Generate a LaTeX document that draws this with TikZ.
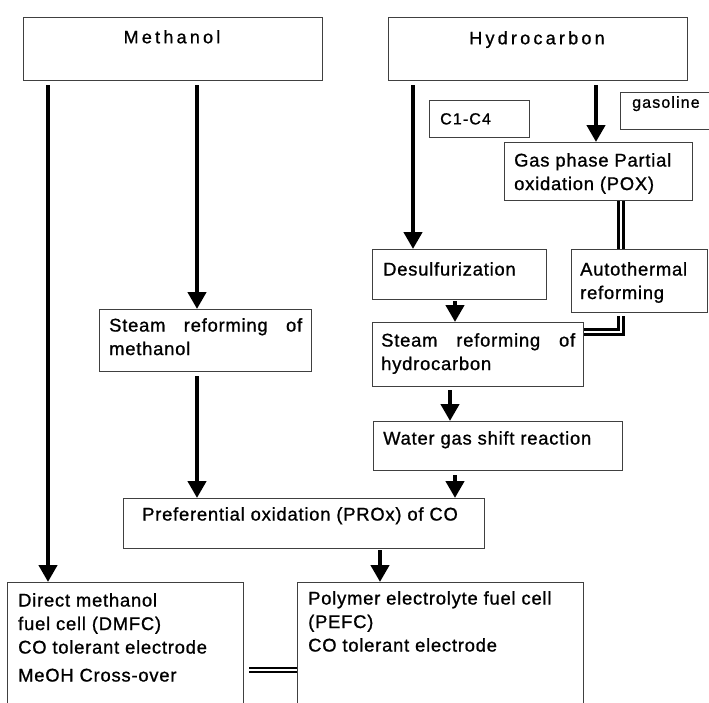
\documentclass[tikz,border=0pt]{standalone}
\usepackage{fontspec}
\setmainfont{Liberation Sans}
\newfontfamily\bodyfont[LetterSpace=4.2,FakeBold=1]{Liberation Sans}
\newfontfamily\headfont[LetterSpace=18,FakeBold=1]{Liberation Sans}
\newfontfamily\tagfont[LetterSpace=7,FakeBold=1]{Liberation Sans}
\usetikzlibrary{arrows.meta}

\tikzset{
  box/.style={draw=black!75, line width=1.1pt, anchor=north west, inner sep=0pt},
  txt/.style={anchor=north west, inner sep=0pt, align=left, font=\bodyfont\fontsize{18.4}{23.5}\selectfont},
  head/.style={anchor=north, inner sep=0pt, font=\headfont\fontsize{18}{21}\selectfont},
  tag/.style={anchor=north west, inner sep=0pt, font=\tagfont\fontsize{16}{19}\selectfont},
  arr/.style={line width=4.5pt, -{Triangle[width=18pt,length=17pt]}},
  dbl/.style={double, line width=3pt, double distance=2.5pt},
  dblthin/.style={double, line width=2.3pt, double distance=2.3pt}
}

\begin{document}
\begin{tikzpicture}[x=1pt,y=-1pt]
    \useasboundingbox (0,0) rectangle (709,702);
    \clip (0,0) rectangle (709,702);

    % Feeds
    \node[box, minimum width=299, minimum height=63] (methanol) at (23,17) {};
    \node[head] (methanoltxt) at (172,30) {Methanol};
    \node[box, minimum width=299, minimum height=63] (hydro) at (388,17) {};
    \node[head] (hydrotxt) at (537,31) {Hydrocarbon};
    \node[box, minimum width=100, minimum height=37] (c1c4) at (429,100) {};
    \node[tag] (c1c4txt) at (440,113) {C1-C4};
    \node[box, minimum width=110, minimum height=37] (gasoline) at (620,92) {};
    \node[tag] (gasolinetxt) at (632,96) {gasoline};

    % Processing steps
    \node[box, minimum width=188, minimum height=58] (pox) at (504,142) {};
    \node[txt] (poxtxt) at (514,153) {Gas phase Partial\\oxidation (POX)};
    \node[box, minimum width=174, minimum height=50] (desulf) at (372,249) {};
    \node[txt] (desulftxt) at (383,262) {Desulfurization};
    \node[box, minimum width=136, minimum height=63] (auto) at (571,249) {};
    \node[txt] (autotxt) at (580,262) {Autothermal\\reforming};
    \node[box, minimum width=212, minimum height=62] (steamm) at (99,309) {};
    \node[txt] (steammtxt) at (109,318) {\makebox[193pt][s]{Steam reforming of}\\methanol};
    \node[box, minimum width=211, minimum height=64] (steamhc) at (372,322) {};
    \node[txt] (steamhctxt) at (381,333) {\makebox[194pt][s]{Steam reforming of}\\hydrocarbon};
    \node[box, minimum width=249, minimum height=49] (wgs) at (373,421) {};
    \node[txt] (wgstxt) at (383,431) {Water gas shift reaction};
    \node[box, minimum width=361, minimum height=50] (prox) at (123,498) {};
    \node[txt] (proxtxt) at (142,507) {Preferential oxidation (PROx) of CO};

    % Fuel cells
    \node[box, minimum width=236, minimum height=140] (dmfc) at (7,582) {};
    \node[txt] (dmfctxt) at (18,593) {Direct methanol\\fuel cell (DMFC)\\CO tolerant electrode\\[4.5pt]MeOH Cross-over};
    \node[box, minimum width=286, minimum height=140] (pefc) at (297,582) {};
    \node[txt] (pefctxt) at (308,591) {Polymer electrolyte fuel cell\\(PEFC)\\CO tolerant electrode};

    % Arrows
    \coordinate (m1) at ([xshift=25,yshift=-4]methanol.south west);
    \coordinate (m2) at ([xshift=174,yshift=-4]methanol.south west);
    \coordinate (m3) at ([xshift=98,yshift=-4]steamm.south west);
    \coordinate (h1) at ([xshift=25,yshift=-4]hydro.south west);
    \coordinate (h2) at ([xshift=208,yshift=-4]hydro.south west);
    \coordinate (d1) at ([xshift=83,yshift=-1]desulf.south west);
    \coordinate (s2) at ([xshift=78,yshift=-3]steamhc.south west);
    \coordinate (w1) at ([xshift=82,yshift=-4]wgs.south west);
    \coordinate (r1) at ([xshift=257,yshift=-1]prox.south west);
    \draw[arr] (m1) -- (m1 |- dmfc.north);
    \draw[arr] (m2) -- (m2 |- steamm.north);
    \draw[arr] (m3) -- (m3 |- prox.north);
    \draw[arr] (h1) -- (h1 |- desulf.north);
    \draw[arr] (h2) -- (h2 |- pox.north);
    \draw[arr] (d1) -- (d1 |- steamhc.north);
    \draw[arr] (s2) -- (s2 |- wgs.north);
    \draw[arr] (w1) -- (w1 |- prox.north);
    \draw[arr] (r1) -- (r1 |- pefc.north);

    % Double links
    \coordinate (p1) at ([xshift=117]pox.south west);
    \coordinate (a1) at ([xshift=50,yshift=-3]auto.south west);
    \coordinate (s1) at ([yshift=-10]steamhc.north east);
    \coordinate (c1) at ([xshift=5,yshift=-88]dmfc.north east);
    \draw[dbl] (p1) -- (p1 |- auto.north);
    \draw[dbl] (a1) |- (s1);
    \draw[dblthin] (c1) -- (c1 -| pefc.west);
\end{tikzpicture}
\end{document}
